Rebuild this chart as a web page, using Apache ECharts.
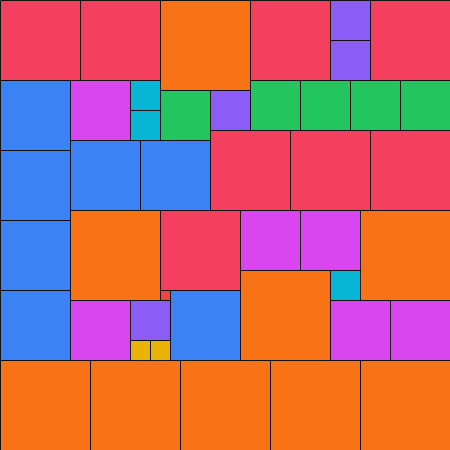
<!DOCTYPE html>
<html>
<head>
<meta charset="utf-8">
<script src="https://cdn.jsdelivr.net/npm/echarts@6/dist/echarts.min.js"></script>
<style>
  html, body { margin: 0; padding: 0; background: #fff; }
  #main { width: 450px; height: 450px; }
</style>
</head>
<body>
<div id="main"></div>
<script>
// squares 1..9, n copies of size n, packed into a 45x45 square
var xs    = [0, 8, 16, 25, 33, 33, 37,  0, 7, 13, 13, 16, 21, 25, 30, 35, 40,  0, 7, 14, 21, 29, 37,  0, 7, 16, 24, 30, 36,  0, 7, 13, 13, 15, 16, 17, 24, 33, 33, 39,  0, 9, 18, 27, 36];
var ys    = [0, 0, 0,  0,  0,  4,  0,  8, 8,  8, 11,  9,  9,  8,  8,  8,  8, 15, 14, 14, 13, 13, 13, 22, 21, 21, 21, 21, 21, 29, 30, 30, 34, 34, 29, 29, 27, 27, 30, 30, 36, 36, 36, 36, 36];
var sizes = [8, 8, 9,  8,  4,  4,  8,  7, 6,  3,  3,  5,  4,  5,  5,  5,  5,  7, 7,  7,  8,  8,  8,  7,  9,  8,  6,  6,  9,  7,  6,  4,  2,  2,  1,  7,  9,  3,  6,  6,  9,  9,  9,  9,  9];
var colors = {1: "#ef4444", 2: "#eab308", 3: "#06b6d4", 4: "#8b5cf6", 5: "#22c55e", 6: "#d946ef", 7: "#3b82f6", 8: "#f43f5e", 9: "#f97316"};

var data = xs.map(function (x, i) { return [x, ys[i], sizes[i]]; });

var chart = echarts.init(document.getElementById("main"));
chart.setOption({
  animation: false,
  grid: { left: 0, right: 0, top: 0, bottom: 0 },
  xAxis: { type: "value", min: 0, max: 45, show: false },
  yAxis: { type: "value", min: 0, max: 45, inverse: true, show: false },
  series: [
    {
      type: "custom",
      data: data,
      renderItem: function (params, api) {
        var x = api.value(0), y = api.value(1), s = api.value(2);
        var p0 = api.coord([x, y]);
        var p1 = api.coord([x + s, y + s]);
        return {
          type: "rect",
          shape: { x: p0[0] + 0.5, y: p0[1] + 0.5, width: p1[0] - p0[0], height: p1[1] - p0[1] },
          style: { fill: colors[s], stroke: "#111", lineWidth: 1 }
        };
      }
    }
  ]
});
</script>
</body>
</html>
